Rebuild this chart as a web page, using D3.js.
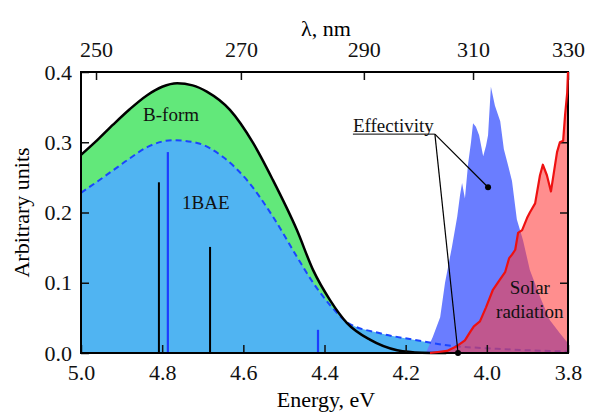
<!DOCTYPE html>
<html>
<head>
<meta charset="utf-8">
<script src="https://cdn.jsdelivr.net/npm/d3@7"></script>
<style>
  body { margin: 0; background: #fff; }
  svg { display: block; }
  text { font-family: "Liberation Serif", "Times New Roman", serif; }
  .axis text { font-size: 22px; fill: #111; }
  .axis line { stroke: #111; stroke-width: 1.5; }
</style>
</head>
<body>
<svg id="chart" width="590" height="412"></svg>
<script>
// B-form absorption (black solid curve)
const bformE = [5.0, 4.96, 4.921, 4.88, 4.837, 4.80, 4.763, 4.725, 4.690, 4.633, 4.576, 4.527, 4.468, 4.428, 4.386, 4.345, 4.288, 4.221, 4.16, 4.10];
const bformV = [0.282, 0.303, 0.325, 0.347, 0.367, 0.379, 0.384, 0.381, 0.372, 0.346, 0.299, 0.246, 0.175, 0.118, 0.075, 0.043, 0.019, 0.004, 0.0005, 0.0];

// 1BAE absorption (blue dashed curve)
const baeE = [5.0, 4.96, 4.921, 4.88, 4.837, 4.773, 4.714, 4.650, 4.591, 4.527, 4.468, 4.428, 4.386, 4.345, 4.263, 4.181, 4.098, 3.975, 3.8];
const baeV = [0.228, 0.244, 0.260, 0.277, 0.293, 0.303, 0.299, 0.279, 0.246, 0.194, 0.137, 0.100, 0.068, 0.044, 0.028, 0.019, 0.011, 0.006, 0.002];

// calculated transitions (sticks)
const stickBlackE = [4.808, 4.682];
const stickBlackV = [0.243, 0.151];
const stickBlueE = [4.786, 4.416];
const stickBlueV = [0.286, 0.033];

// effectivity spectrum
const effE = [4.150, 4.140, 4.133, 4.115, 4.103, 4.086, 4.073, 4.066, 4.061, 4.054, 4.046, 4.039, 4.034, 4.027, 4.019, 4.009, 4.002, 3.997, 3.990, 3.980, 3.967, 3.958, 3.948, 3.938, 3.926, 3.911, 3.894, 3.869, 3.845, 3.820, 3.800];
const effV = [0.0, 0.014, 0.023, 0.051, 0.100, 0.151, 0.194, 0.225, 0.242, 0.220, 0.270, 0.300, 0.327, 0.322, 0.310, 0.280, 0.295, 0.310, 0.379, 0.352, 0.330, 0.290, 0.268, 0.245, 0.190, 0.161, 0.118, 0.080, 0.047, 0.028, 0.014];

// solar radiation
const solarE = [4.140, 4.098, 4.073, 4.054, 4.041, 4.032, 4.017, 4.002, 3.985, 3.967, 3.955, 3.945, 3.938, 3.930, 3.923, 3.913, 3.901, 3.894, 3.881, 3.869, 3.862, 3.852, 3.842, 3.834, 3.827, 3.820, 3.812, 3.807, 3.802, 3.800];
const solarV = [0.0, 0.003, 0.010, 0.018, 0.030, 0.038, 0.045, 0.065, 0.090, 0.105, 0.115, 0.135, 0.140, 0.147, 0.171, 0.175, 0.192, 0.200, 0.213, 0.253, 0.268, 0.253, 0.230, 0.260, 0.286, 0.300, 0.302, 0.340, 0.370, 0.400];

// axis ticks
const energyTicks = [5.0, 4.8, 4.6, 4.4, 4.2, 4.0, 3.8];
const yTicks = [0.0, 0.1, 0.2, 0.3, 0.4];
const lamTicks = [250, 270, 290, 310, 330];
const lamTickEnergy = [4.963, 4.606, 4.303, 4.034, 3.80];

const serif = '"Liberation Serif", "Times New Roman", serif';
const margin = {top: 72, right: 22, bottom: 59, left: 81};
const width = 590, height = 412;
const innerWidth = width - margin.left - margin.right;
const innerHeight = height - margin.top - margin.bottom;

const svg = d3.select('#chart');
const g = svg.append('g').attr('transform', `translate(${margin.left},${margin.top})`);

const x = d3.scaleLinear().domain([5.0, 3.8]).range([0, innerWidth]);
const y = d3.scaleLinear().domain([0, 0.4]).range([innerHeight, 0]);
const xLam = d3.scaleLinear().domain(lamTicks).range(lamTickEnergy.map(e => x(e)));

const zip = (a, b) => a.map((d, i) => [d, b[i]]);

const area = d3.area().x(d => x(d[0])).y0(y(0)).y1(d => y(d[1])).curve(d3.curveMonotoneX);
const line = d3.line().x(d => x(d[0])).y(d => y(d[1])).curve(d3.curveMonotoneX);
const lineLin = d3.line().x(d => x(d[0])).y(d => y(d[1]));
const areaLin = d3.area().x(d => x(d[0])).y0(y(0)).y1(d => y(d[1]));

const bform = zip(bformE, bformV);
const bae = zip(baeE, baeV);
const eff = zip(effE, effV);
const solar = zip(solarE, solarV);

// fills
g.append('path').attr('d', area(bform)).attr('fill', '#62e87a');
g.append('path').attr('d', area(bae)).attr('fill', '#50b4f2');
g.append('path').attr('d', areaLin(eff)).attr('fill', '#6a7dff');

// sticks
g.selectAll('.stk-b').data(zip(stickBlackE, stickBlackV)).join('line')
  .attr('x1', d => x(d[0])).attr('x2', d => x(d[0]))
  .attr('y1', y(0)).attr('y2', d => y(d[1]))
  .attr('stroke', '#000').attr('stroke-width', 2);
g.selectAll('.stk-u').data(zip(stickBlueE, stickBlueV)).join('line')
  .attr('x1', d => x(d[0])).attr('x2', d => x(d[0]))
  .attr('y1', y(0)).attr('y2', d => y(d[1]))
  .attr('stroke', '#1d3cff').attr('stroke-width', 2.2);

// curves
g.append('path').attr('d', line(bae)).attr('fill', 'none')
  .attr('stroke', '#1a45ff').attr('stroke-width', 2).attr('stroke-dasharray', '6,4');
g.append('path').attr('d', line(bform)).attr('fill', 'none')
  .attr('stroke', '#000').attr('stroke-width', 2.5);

// solar fill
g.append('path').attr('d', areaLin(solar)).attr('fill', 'rgb(255,60,60)').attr('fill-opacity', 0.58);

// axes
g.append('g').attr('class', 'axis').attr('transform', `translate(0,${innerHeight})`)
  .call(d3.axisBottom(x).tickValues(energyTicks).tickFormat(d3.format('.1f')).tickSizeInner(-8).tickSizeOuter(0).tickPadding(11));
g.append('g').attr('class', 'axis')
  .call(d3.axisLeft(y).tickValues(yTicks).tickFormat(d3.format('.1f')).tickSizeInner(-8).tickSizeOuter(0).tickPadding(9));
const topAxis = g.append('g').attr('class', 'axis')
  .call(d3.axisTop(xLam).tickValues(lamTicks).tickFormat(d3.format('d')).tickSizeInner(-8).tickSizeOuter(0).tickPadding(15));
g.append('g').attr('class', 'axis').attr('transform', `translate(${innerWidth},0)`)
  .call(d3.axisRight(y).tickValues([0.1, 0.2, 0.3]).tickFormat('').tickSizeInner(-8).tickSizeOuter(0));
g.selectAll('.axis .domain').remove();
g.selectAll('.axis').attr('font-family', serif);
g.selectAll('.axis text').attr('font-family', serif);
topAxis.selectAll('text').attr('dy', '0em');

// frame
g.append('rect').attr('width', innerWidth).attr('height', innerHeight)
  .attr('fill', 'none').attr('stroke', '#000').attr('stroke-width', 2);

// solar line
g.append('path').attr('d', lineLin(solar)).attr('fill', 'none')
  .attr('stroke', '#ee1111').attr('stroke-width', 2.2).attr('stroke-linejoin', 'round');

// axis titles
svg.append('text').attr('x', 326).attr('y', 36).attr('text-anchor', 'middle')
  .attr('font-family', serif).style('font-size', '22px').text('λ, nm');
svg.append('text').attr('x', 326).attr('y', 407).attr('text-anchor', 'middle')
  .attr('font-family', serif).style('font-size', '22px').text('Energy, eV');
svg.append('text').attr('transform', `translate(29,${margin.top + innerHeight / 2}) rotate(-90)`)
  .attr('text-anchor', 'middle').attr('font-family', serif).style('font-size', '22px').text('Arbitrary units');

// labels
const lab = (e, v, t, anchor) => g.append('text').attr('x', x(e)).attr('y', y(v))
  .attr('text-anchor', anchor || 'start').attr('font-family', serif)
  .style('font-size', '19px').attr('fill', '#111').text(t);
lab(4.847, 0.330, 'B-form');
lab(4.751, 0.205, '1BAE');
lab(3.894, 0.084, 'Solar', 'middle');
lab(3.894, 0.050, 'radiation', 'middle');
lab(4.330, 0.315, 'Effectivity');

// effectivity pointers
const anchorPt = [4.128, 0.313];
const targets = [[3.997, 0.236], [4.071, 0.0]];
g.append('line').attr('x1', x(4.330)).attr('x2', x(anchorPt[0]))
  .attr('y1', y(anchorPt[1]) + 1).attr('y2', y(anchorPt[1]) + 1)
  .attr('stroke', '#000').attr('stroke-width', 1);
targets.forEach(t => {
  g.append('line').attr('x1', x(anchorPt[0])).attr('y1', y(anchorPt[1]) + 1)
    .attr('x2', x(t[0])).attr('y2', y(t[1])).attr('stroke', '#000').attr('stroke-width', 1.2);
  g.append('circle').attr('cx', x(t[0])).attr('cy', y(t[1])).attr('r', 3).attr('fill', '#000');
});
</script>
</body>
</html>
